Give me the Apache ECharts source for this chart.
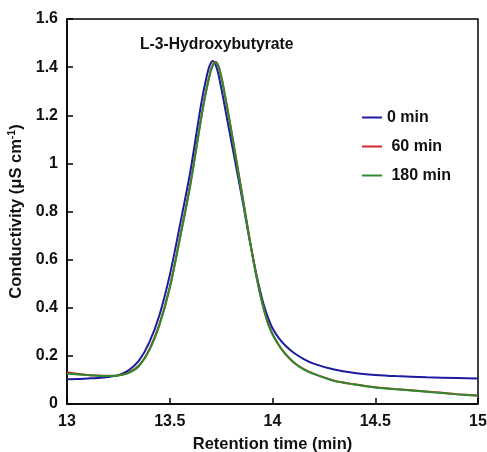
<!DOCTYPE html>
<html>
<head>
<meta charset="utf-8">
<script src="https://cdn.jsdelivr.net/npm/echarts@6/dist/echarts.min.js"></script>
<style>html,body{margin:0;padding:0;background:#fff}#c{width:487px;height:452px}</style>
</head>
<body>
<div id="c"></div>
<script>
var seriesNames = ['0 min', '60 min', '180 min'];
var xTicks = [13, 13.5, 14, 14.5, 15];
var yTicks = [0, 0.2, 0.4, 0.6, 0.8, 1, 1.2, 1.4, 1.6];

var t0 = [13.00,13.05,13.10,13.15,13.20,13.25,13.30,13.35,13.40,13.45,13.50,13.55,13.60,13.64,13.66,13.68,13.69,13.70,13.71,13.72,13.73,13.74,13.76,13.78,13.80,13.82,13.84,13.86,13.88,13.90,13.92,13.94,13.96,13.98,14.00,14.03,14.06,14.10,14.15,14.20,14.30,14.40,14.50,14.60,14.75,14.90,15.00];
var v0 = [0.103,0.104,0.106,0.108,0.112,0.120,0.140,0.180,0.255,0.370,0.535,0.745,0.965,1.180,1.280,1.362,1.396,1.417,1.425,1.416,1.392,1.358,1.272,1.180,1.090,1.000,0.910,0.818,0.722,0.630,0.545,0.470,0.405,0.355,0.315,0.275,0.245,0.215,0.188,0.168,0.143,0.129,0.121,0.116,0.111,0.108,0.106];

var t60 = [13.00,13.05,13.10,13.15,13.20,13.25,13.30,13.35,13.40,13.45,13.50,13.55,13.60,13.64,13.66,13.68,13.70,13.71,13.72,13.73,13.74,13.75,13.76,13.78,13.80,13.82,13.84,13.86,13.88,13.90,13.92,13.94,13.96,13.98,14.00,14.03,14.06,14.10,14.15,14.20,14.30,14.40,14.50,14.60,14.75,14.90,15.00];
var v60 = [0.132,0.126,0.121,0.118,0.117,0.119,0.130,0.160,0.226,0.332,0.485,0.693,0.912,1.122,1.224,1.314,1.387,1.410,1.421,1.417,1.398,1.365,1.325,1.232,1.136,1.036,0.935,0.833,0.730,0.632,0.540,0.458,0.388,0.332,0.291,0.246,0.211,0.176,0.146,0.126,0.097,0.082,0.070,0.062,0.052,0.041,0.035];

var t180 = [13.00,13.05,13.10,13.15,13.20,13.25,13.30,13.35,13.40,13.45,13.50,13.55,13.60,13.64,13.66,13.68,13.70,13.71,13.72,13.73,13.74,13.75,13.76,13.78,13.80,13.82,13.84,13.86,13.88,13.90,13.92,13.94,13.96,13.98,14.00,14.03,14.06,14.10,14.15,14.20,14.30,14.40,14.50,14.60,14.75,14.90,15.00];
var v180 = [0.126,0.123,0.120,0.117,0.116,0.118,0.129,0.158,0.223,0.329,0.482,0.690,0.909,1.120,1.222,1.312,1.385,1.408,1.419,1.415,1.395,1.360,1.320,1.226,1.130,1.030,0.930,0.828,0.726,0.628,0.537,0.455,0.385,0.330,0.290,0.245,0.210,0.175,0.145,0.125,0.096,0.081,0.069,0.061,0.051,0.040,0.034];

function pairs(t, v) { return t.map(function (x, i) { return [x, v[i]]; }); }

var colors = ['#1c1ca0', '#d02a26', '#2e8a2e'];
var font = 'Liberation Sans, Arial, sans-serif';

var chart = echarts.init(document.getElementById('c'), null, {renderer: 'canvas'});
chart.setOption({
  animation: false,
  backgroundColor: '#fff',
  grid: {left: 67, right: 9, top: 19, bottom: 48, show: true, borderColor: '#000', borderWidth: 1.5,
    backgroundColor: 'transparent', containLabel: false, outerBoundsMode: 'none'},
  title: {
    text: 'L-3-Hydroxybutyrate', left: 135, top: 32,
    textStyle: {fontFamily: font, fontWeight: 'bold', fontSize: 15.7, color: '#111'}
  },
  legend: {
    orient: 'vertical', left: 357, top: 104, itemGap: 12,
    itemWidth: 20, itemHeight: 2, icon: 'rect',
    data: seriesNames,
    formatter: function (n) { return n === '0 min' ? n : ' ' + n; },
    textStyle: {fontFamily: font, fontWeight: 'bold', fontSize: 16, color: '#111', lineHeight: 17}
  },
  xAxis: {
    type: 'value', min: 13, max: 15, interval: 0.5,
    name: 'Retention time (min)', nameLocation: 'middle', nameGap: 32,
    nameTextStyle: {fontFamily: font, fontWeight: 'bold', fontSize: 16.5, color: '#111'},
    axisLine: {show: true, lineStyle: {color: '#000', width: 1.5}},
    axisTick: {show: true, inside: true, length: 6, lineStyle: {color: '#000', width: 1.5}},
    axisLabel: {fontFamily: font, fontWeight: 'bold', fontSize: 16, color: '#111', margin: 10,
      formatter: function (v) { return xTicks.indexOf(v) >= 0 ? String(v) : ''; }},
    splitLine: {show: false}
  },
  yAxis: {
    type: 'value', min: 0, max: 1.6, interval: 0.2,
    name: '{a|Conductivity (μS cm}{s|-1}{a|)}', nameLocation: 'middle', nameGap: 38, nameRotate: 90,
    nameTextStyle: {rich: {
      a: {fontFamily: font, fontWeight: 'bold', fontSize: 16.5, color: '#111'},
      s: {fontFamily: font, fontWeight: 'bold', fontSize: 10.5, color: '#111', verticalAlign: 'top', padding: [0, 0, 8, 0]}
    }},
    axisLine: {show: true, lineStyle: {color: '#000', width: 1.5}},
    axisTick: {show: true, inside: true, length: 6, lineStyle: {color: '#000', width: 1.5}},
    axisLabel: {fontFamily: font, fontWeight: 'bold', fontSize: 16, color: '#111', margin: 9,
      formatter: function (v) {
        var r = Math.round(v * 10) / 10;
        return yTicks.indexOf(r) >= 0 ? String(r) : '';
      }},
    splitLine: {show: false}
  },
  series: [
    {name: seriesNames[0], type: 'line', data: pairs(t0, v0), smooth: 0.3, showSymbol: false, z: 3,
      lineStyle: {color: colors[0], width: 2}, itemStyle: {color: colors[0]}},
    {name: seriesNames[1], type: 'line', data: pairs(t60, v60), smooth: 0.3, showSymbol: false, z: 4,
      lineStyle: {color: colors[1], width: 2}, itemStyle: {color: colors[1]}},
    {name: seriesNames[2], type: 'line', data: pairs(t180, v180), smooth: 0.3, showSymbol: false, z: 5,
      lineStyle: {color: colors[2], width: 2}, itemStyle: {color: colors[2]}}
  ]
});
</script>
</body>
</html>
